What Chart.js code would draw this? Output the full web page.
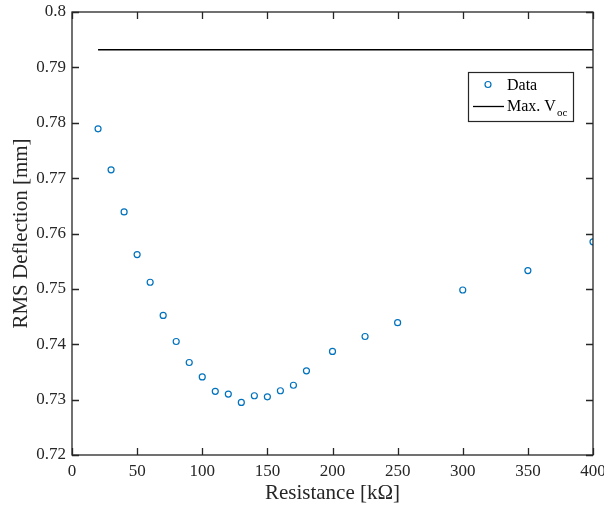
<!DOCTYPE html>
<html>
<head>
<meta charset="utf-8">
<script src="https://cdn.jsdelivr.net/npm/chart.js@4.4.1/dist/chart.umd.min.js"></script>
<style>
  html, body { margin: 0; padding: 0; background: #fff; }
  #wrap { width: 604px; height: 510px; }
</style>
</head>
<body>
<div id="wrap"><canvas id="chart" width="604" height="510"></canvas></div>
<script>
// DATA
const resistance = [20, 30, 40, 50, 60, 70, 80, 90, 100, 110, 120, 130, 140, 150, 160, 170, 180, 200, 225, 250, 300, 350, 400];
const deflection = [0.7789, 0.7715, 0.7639, 0.7562, 0.7512, 0.7452, 0.7405, 0.7367, 0.7341, 0.7315, 0.7310, 0.7295,
                    0.7307, 0.7305, 0.7316, 0.7326, 0.7352, 0.7387, 0.7414, 0.7439, 0.7498, 0.7533, 0.7585];
const maxVocX = [20, 400];
const maxVocY = [0.7932, 0.7932];
const xTicks = [0, 50, 100, 150, 200, 250, 300, 350, 400];
const yTicks = [0.72, 0.73, 0.74, 0.75, 0.76, 0.77, 0.78, 0.79, 0.8];

const THEME = {
    blue: '#0072BD',
    axis: '#262626',
    font: '"Liberation Serif", "Times New Roman", serif'
};

// box + inward ticks on all four sides (matlab style)
const frame = {
    id: 'frame',
    afterDraw(chart) {
        const { ctx, chartArea: a, scales: { x, y } } = chart;
        const len = 7;
        ctx.save();
        ctx.strokeStyle = THEME.axis;
        ctx.lineWidth = 1.3;
        ctx.beginPath();
        xTicks.forEach(v => {
            const px = Math.round(x.getPixelForValue(v)) + 0.5;
            ctx.moveTo(px, a.bottom); ctx.lineTo(px, a.bottom - len);
            ctx.moveTo(px, a.top); ctx.lineTo(px, a.top + len);
        });
        yTicks.forEach(v => {
            const py = Math.round(y.getPixelForValue(v)) + 0.5;
            ctx.moveTo(a.left, py); ctx.lineTo(a.left + len, py);
            ctx.moveTo(a.right, py); ctx.lineTo(a.right - len, py);
        });
        ctx.stroke();
        ctx.strokeRect(a.left, a.top, a.right - a.left, a.bottom - a.top);
        ctx.restore();
    }
};

// legend with subscript text
const legendBox = {
    id: 'legendBox',
    afterDraw(chart) {
        const { ctx } = chart;
        const bx = 468, by = 72, bw = 105, bh = 49;
        ctx.save();
        ctx.fillStyle = '#fff';
        ctx.fillRect(bx, by, bw, bh);
        ctx.strokeStyle = THEME.axis;
        ctx.lineWidth = 1.2;
        ctx.strokeRect(bx + 0.5, by + 0.5, bw, bh);

        // Data marker
        ctx.strokeStyle = THEME.blue;
        ctx.lineWidth = 1.2;
        ctx.beginPath();
        ctx.arc(488, 84.5, 3, 0, Math.PI * 2);
        ctx.stroke();

        // line sample
        ctx.strokeStyle = '#000';
        ctx.lineWidth = 1.3;
        ctx.beginPath();
        ctx.moveTo(473, 106.5); ctx.lineTo(504, 106.5);
        ctx.stroke();

        ctx.fillStyle = '#000';
        ctx.textBaseline = 'alphabetic';
        ctx.font = '16px ' + THEME.font;
        ctx.fillText('Data', 507, 90);
        ctx.fillText('Max. V', 507, 111);
        const w = ctx.measureText('Max. V').width;
        ctx.font = '11px ' + THEME.font;
        ctx.fillText('oc', 507 + w + 1, 116);
        ctx.restore();
    }
};

new Chart(document.getElementById('chart'), {
    type: 'scatter',
    data: {
        datasets: [
            {
                label: 'Data',
                data: resistance.map((r, i) => ({ x: r, y: deflection[i] })),
                showLine: false,
                pointStyle: 'circle',
                pointRadius: 3,
                pointBorderWidth: 1.2,
                borderColor: THEME.blue,
                backgroundColor: 'rgba(0,0,0,0)'
            },
            {
                label: 'Max. Voc',
                data: maxVocX.map((r, i) => ({ x: r, y: maxVocY[i] })),
                showLine: true,
                pointRadius: 0,
                borderColor: '#000',
                borderWidth: 1.5
            }
        ]
    },
    options: {
        responsive: false,
        animation: false,
        layout: { padding: { top: 12, right: 11, left: 0, bottom: 0 } },
        plugins: {
            legend: { display: false },
            tooltip: { enabled: false }
        },
        scales: {
            x: {
                type: 'linear',
                min: 0,
                max: 400,
                afterFit: s => { s.height = 55; s.paddingLeft = 0; s.paddingRight = 0; },
                afterBuildTicks: s => { s.ticks = xTicks.map(v => ({ value: v })); },
                grid: { display: false, drawTicks: false },
                border: { display: false },
                ticks: {
                    color: THEME.axis,
                    font: { family: THEME.font, size: 17 },
                    padding: 6,
                    maxRotation: 0
                },
                title: {
                    display: true,
                    text: 'Resistance [kΩ]',
                    color: THEME.axis,
                    font: { family: THEME.font, size: 21 },
                    padding: { top: 0, bottom: 4 }
                }
            },
            y: {
                type: 'linear',
                min: 0.72,
                max: 0.8,
                afterFit: s => { s.width = 72; s.paddingTop = 0; s.paddingBottom = 0; },
                afterBuildTicks: s => { s.ticks = yTicks.map(v => ({ value: v })); },
                grid: { display: false, drawTicks: false },
                border: { display: false },
                ticks: {
                    color: THEME.axis,
                    font: { family: THEME.font, size: 17 },
                    padding: 6,
                    callback: v => String(+v.toFixed(2))
                },
                title: {
                    display: true,
                    text: 'RMS Deflection [mm]',
                    color: THEME.axis,
                    font: { family: THEME.font, size: 21 },
                    padding: { top: 9, bottom: 0 }
                }
            }
        }
    },
    plugins: [frame, legendBox]
});
</script>
</body>
</html>
